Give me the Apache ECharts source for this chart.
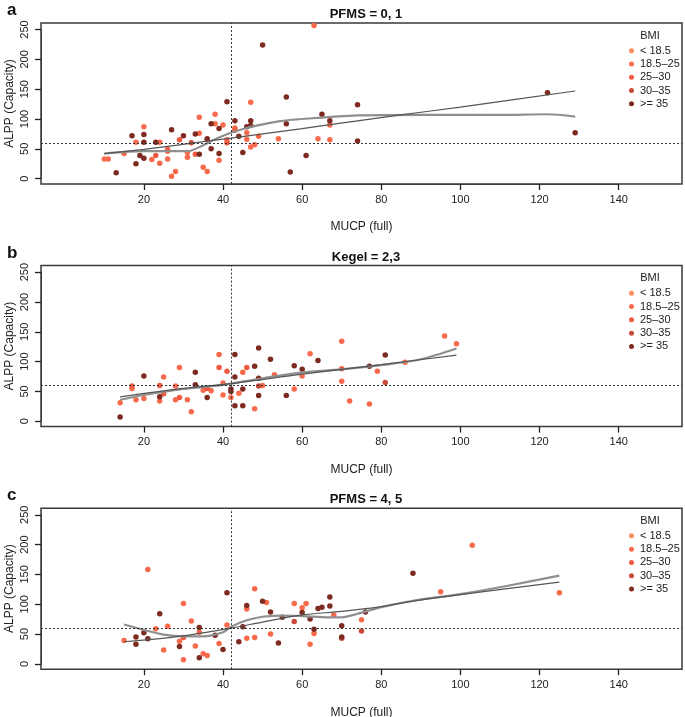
<!DOCTYPE html>
<html>
<head>
<meta charset="utf-8">
<script src="https://cdn.jsdelivr.net/npm/echarts@6/dist/echarts.min.js"></script>
<style>
  html, body { margin: 0; padding: 0; background: #fff; }
  #ChartMain { width: 685px; height: 717px; }
</style>
</head>
<body>
<div id="ChartMain"></div>
<script>
// BMI groups and colours
var bmiNames = ['< 18.5', '18.5\u201325', '25\u201330', '30\u201335', '>= 35'];
var bmiColors = ['#fb8e5e', '#f86a4c', '#ef5a41', '#c9483a', '#7d2a20'];

// axis ranges (R style: 4% padding around the tick range)
var xRange = [-6, 156], yRange = [-9, 261];
var xTickRange = [20, 140], xStep = 20;
var yTickRange = [0, 250], yStep = 50;
var cutX = 42;   // vertical reference
var cutY = 60;   // horizontal reference

var panelLetters = ['a', 'b', 'c'];
var panelTitles = ['PFMS = 0, 1', 'Kegel = 2,3', 'PFMS = 4, 5'];

// panel a : PFMS = 0, 1
var mucpA = [10,11,13,15,17,18,18,19,20,20,20,20,22,23,23,24,24,26,26,26,27,27,28,29,30,31,31,32,33,33,34,34,34,35,36,36,36,37,37,38,38,39,39,39,40,41,41,41,43,43,43,44,45,46,46,46,47,47,47,47,48,49,50,54,56,56,57,61,63,64,65,67,67,67,74,74,122,129];
var alppA = [33,33,10,42,72,61,25,39,87,74,61,34,32,39,61,61,26,49,46,33,82,4,12,65,72,44,36,60,75,41,103,76,41,19,12,67,65,50,92,108,92,84,42,31,90,129,65,60,97,85,81,71,44,77,66,87,128,97,89,53,57,71,224,67,137,92,11,39,257,67,108,97,90,65,124,63,144,77];
var bmiA  = [1,1,4,1,4,1,4,4,1,4,4,4,1,2,4,1,1,2,1,1,4,1,1,2,4,1,1,3,4,2,1,1,4,1,1,4,2,4,4,1,1,4,4,1,1,4,1,2,4,1,2,4,4,1,1,4,1,4,4,1,1,1,4,1,4,4,4,4,1,1,4,4,1,1,4,4,4,4];
var lowessAx = [10,20,31,35,38,42,46,50,54,60,74,90,110,122,129];
var lowessAy = [42,46,46,56,66,77,85,91,96,100,106,107,107,108,104];
var fitAx = [10,20,36,42,60,74,84,100,129];
var fitAy = [42,49,63,68,84,97,106,120,147];

// panel b : Kegel = 2,3
var mucpB = [14,14,17,17,18,20,20,24,24,24,25,25,28,28,29,29,31,32,33,33,35,36,36,37,39,39,40,40,41,42,42,42,43,43,43,44,45,45,45,46,48,48,49,49,49,49,50,52,53,56,58,58,60,60,62,64,70,70,70,72,77,77,79,81,81,86,96,99];
var alppB = [31,7,55,59,36,76,38,60,41,34,74,46,59,36,90,40,36,16,82,61,52,55,40,51,112,90,64,44,84,54,40,50,112,74,26,47,54,26,82,90,21,92,123,72,59,43,60,104,78,43,93,54,87,76,113,102,134,88,67,34,92,29,84,111,65,99,143,130];
var bmiB  = [1,4,1,2,1,4,1,2,4,1,1,2,1,1,1,2,1,1,4,4,1,2,4,1,1,2,1,1,2,4,1,4,4,4,4,1,4,4,1,2,1,4,4,4,3,4,1,4,1,4,4,1,4,1,1,4,1,2,1,1,4,1,1,4,3,1,1,1];
var lowessBx = [14,20,30,40,50,60,70,80,90,99];
var lowessBy = [36,44,54,61,72,82,87,94,104,122];
var fitBx = [14,30,42,60,80,99];
var fitBy = [41,55,63,79,95,111];

// panel c : PFMS = 4, 5
var mucpC = [15,18,18,20,21,21,23,24,25,26,29,29,30,30,30,32,33,34,34,34,35,36,38,39,40,41,41,44,45,46,46,46,48,48,50,51,52,52,54,55,58,58,60,60,61,62,62,63,63,64,65,67,67,68,70,70,70,75,75,76,88,95,103,125];
var alppC = [39,45,33,52,158,42,59,84,23,63,38,29,101,44,7,72,30,61,53,10,17,14,48,34,24,119,65,37,62,98,92,43,126,44,105,103,87,50,35,78,101,71,94,86,101,33,75,58,51,93,95,112,97,82,64,45,43,74,55,87,152,121,199,119];
var bmiC  = [1,4,4,4,1,4,1,4,1,1,1,4,1,2,1,1,1,4,1,4,1,1,4,1,4,4,1,4,4,4,1,1,1,1,4,1,4,1,4,4,1,3,1,4,1,1,4,4,1,4,4,4,4,1,4,4,3,1,3,4,4,1,1,1];
var lowessCx = [15,20,25,30,35,40,42,46,50,55,60,67,70,74,80,89,100,112,125];
var lowessCy = [66,57,49,46,46,53,62,73,79,81,80,78,78,84,95,107,117,131,148];
var fitCx = [15,30,42,50,60,70,80,89,100,125];
var fitCy = [37,47,60,70,82,88,96,106,116,137];

var panels = [
    {x: mucpA, y: alppA, g: bmiA, lx: lowessAx, ly: lowessAy, fx: fitAx, fy: fitAy},
    {x: mucpB, y: alppB, g: bmiB, lx: lowessBx, ly: lowessBy, fx: fitBx, fy: fitBy},
    {x: mucpC, y: alppC, g: bmiC, lx: lowessCx, ly: lowessCy, fx: fitCx, fy: fitCy}
];

function zip(xs, ys) {
    var out = [];
    for (var i = 0; i < xs.length; i++) out.push([xs[i], ys[i]]);
    return out;
}

function GenerateChart() {
    var chart = echarts.init(document.getElementById('ChartMain'));
    var step = 242.6;
    var font = 'Liberation Sans, Arial, sans-serif';
    var boxColor = '#3a3a3a';
    var L = 41, W = 641, H = 161;
    var grids = [], xAxes = [], yAxes = [], titles = [], legends = [], series = [];

    // inner box that spans exactly the tick range, so ticks can use interval from min
    var xSpan = xRange[1] - xRange[0], ySpan = yRange[1] - yRange[0];
    var tickLeft = L + (xTickRange[0] - xRange[0]) / xSpan * W;
    var tickW = (xTickRange[1] - xTickRange[0]) / xSpan * W;
    var tickTopOff = (yRange[1] - yTickRange[1]) / ySpan * H;
    var tickH = (yTickRange[1] - yTickRange[0]) / ySpan * H;
    var tickBottomOff = H - tickTopOff - tickH;

    panels.forEach(function (p, k) {
        var top = 23 + k * step;
        grids.push({left: L, top: top, width: W, height: H, show: true,
            outerBoundsMode: 'none', containLabel: false,
            borderColor: boxColor, borderWidth: 1.5, backgroundColor: 'transparent'});
        xAxes.push({
            gridIndex: k, type: 'value', min: xRange[0], max: xRange[1],
            name: 'MUCP (full)', nameLocation: 'middle', nameGap: 37, nameMoveOverlap: false,
            nameTextStyle: {fontSize: 12, color: '#222', fontFamily: font},
            axisLine: {show: false, onZero: false}, axisTick: {show: false},
            axisLabel: {show: false}, splitLine: {show: false}
        });
        yAxes.push({
            gridIndex: k, type: 'value', min: yRange[0], max: yRange[1],
            name: 'ALPP (Capacity)', nameLocation: 'middle', nameGap: 25, nameRotate: 90, nameMoveOverlap: false,
            nameTextStyle: {fontSize: 12, color: '#222', fontFamily: font},
            axisLine: {show: false, onZero: false}, axisTick: {show: false},
            axisLabel: {show: false}, splitLine: {show: false}
        });
        titles.push({text: panelLetters[k], left: 2, top: k * step - 3,
            textStyle: {fontSize: 17, fontWeight: 'bold', color: '#111', fontFamily: font}});
        titles.push({text: panelTitles[k], left: 361, textAlign: 'center', top: 3 + k * step,
            textStyle: {fontSize: 13, fontWeight: 'bold', color: '#111', fontFamily: font}});
        titles.push({text: 'BMI', left: 645, textAlign: 'center', top: 25 + k * step,
            textStyle: {fontSize: 11, fontWeight: 'normal', color: '#222', fontFamily: font}});
        legends.push({
            orient: 'vertical', left: 624, top: 39 + k * step,
            icon: 'circle', itemWidth: 5, itemHeight: 5, itemGap: 0,
            selectedMode: false, data: bmiNames,
            textStyle: {fontSize: 11, color: '#222', fontFamily: font, lineHeight: 13.3, padding: [0, 0, 0, 1]}
        });

        bmiNames.forEach(function (name, g) {
            var pts = [];
            for (var i = 0; i < p.x.length; i++) {
                if (p.g[i] === g) pts.push([p.x[i], p.y[i]]);
            }
            series.push({
                name: name, type: 'scatter', xAxisIndex: k, yAxisIndex: k,
                symbolSize: 5.5, itemStyle: {color: bmiColors[g], opacity: 1},
                data: pts, z: 3
            });
        });
        series.push({
            type: 'line', xAxisIndex: k, yAxisIndex: k, data: zip(p.lx, p.ly),
            showSymbol: false, smooth: 0.3, z: 4,
            lineStyle: {color: '#8f8f8f', width: 2.2}
        });
        series.push({
            type: 'line', xAxisIndex: k, yAxisIndex: k, data: zip(p.fx, p.fy),
            showSymbol: false, smooth: 0.3, z: 4,
            lineStyle: {color: '#555', width: 1.2},
            markLine: {
                silent: true, symbol: 'none', label: {show: false},
                lineStyle: {color: '#333', type: [2, 2], width: 1},
                data: [{xAxis: cutX}, {yAxis: cutY}]
            }
        });
    });

    // tick / label axes, shifted out onto the box edges
    panels.forEach(function (p, k) {
        var gi = panels.length + k;
        grids.push({left: tickLeft, top: 23 + k * step + tickTopOff, width: tickW, height: tickH,
            show: false, outerBoundsMode: 'none', containLabel: false});
        xAxes.push({
            gridIndex: gi, type: 'value', min: xTickRange[0], max: xTickRange[1], interval: xStep,
            position: 'bottom', offset: tickBottomOff,
            axisLine: {show: true, onZero: false, lineStyle: {color: boxColor, width: 1}},
            axisTick: {show: true, inside: false, length: 6, lineStyle: {color: '#222', width: 1.3}},
            axisLabel: {margin: 10, fontSize: 11, color: '#222', fontFamily: font},
            splitLine: {show: false}
        });
        yAxes.push({
            gridIndex: gi, type: 'value', min: yTickRange[0], max: yTickRange[1], interval: yStep,
            position: 'left', offset: tickLeft - L,
            axisLine: {show: true, onZero: false, lineStyle: {color: boxColor, width: 1}},
            axisTick: {show: true, inside: false, length: 6, lineStyle: {color: '#222', width: 1.3}},
            axisLabel: {rotate: 90, margin: 11, fontSize: 11, color: '#222', fontFamily: font},
            splitLine: {show: false}
        });
    });

    chart.setOption({
        animation: false,
        title: titles,
        legend: legends,
        grid: grids,
        xAxis: xAxes,
        yAxis: yAxes,
        series: series
    });
}

GenerateChart();
</script>
</body>
</html>
